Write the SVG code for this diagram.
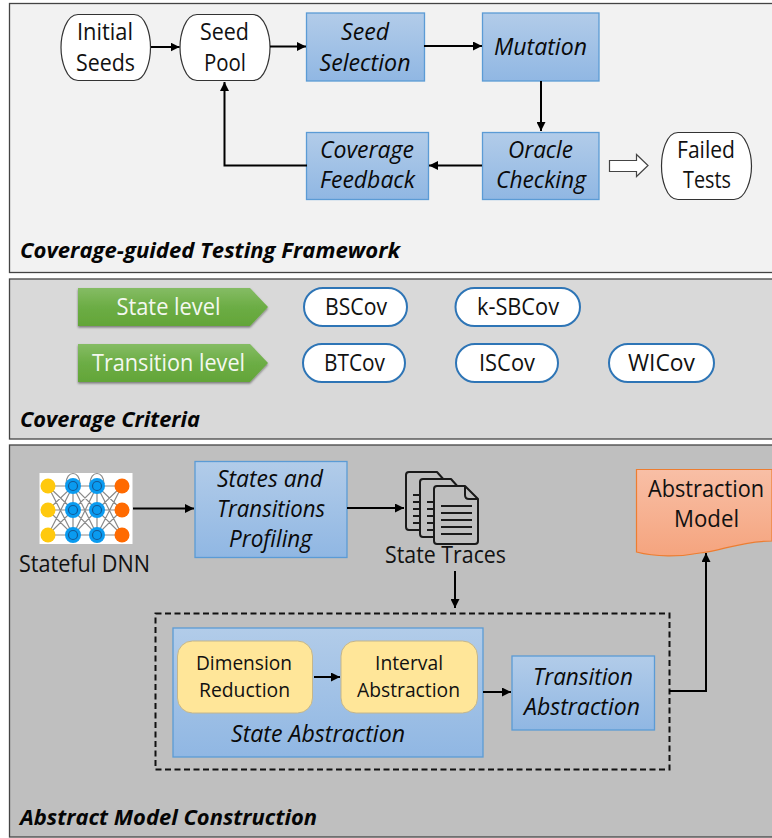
<svg xmlns="http://www.w3.org/2000/svg" width="772" height="838" viewBox="0 0 772 838">
<style>
text{font-family:"Open Sans","Noto Sans","Liberation Sans",sans-serif;font-size:23px;fill:#111}
.i{font-style:italic;fill:#0a0a0a}
.t{font-style:italic;font-weight:700;font-size:21.500px;fill:#050505}
.w{fill:#f4f8f0}
.s{font-size:19.500px}
.panel{stroke:#444;stroke-width:1.3}
.blue{fill:url(#bg);stroke:#5b9bd5;stroke-width:1.3}
.term{fill:#fff;stroke:#333;stroke-width:1.2}
.pill{fill:#fff;stroke:#2e75b6;stroke-width:2}
.green{fill:url(#gg);filter:url(#sh)}
.yel{fill:#ffe699;stroke:#c4b68c;stroke-width:1}
.c{fill:none;stroke:#000;stroke-width:2;marker-end:url(#a)}
.doc{fill:#bfbfbf;stroke:#1a1a1a;stroke-width:2;stroke-linejoin:round}
.dl{fill:none;stroke:#1a1a1a;stroke-width:2}
.net{fill:none;stroke:#8a8a8a;stroke-width:1.2}
</style>
<defs>
<linearGradient id="bg" x1="0" y1="0" x2="0" y2="1"><stop offset="0" stop-color="#b2cce9"/><stop offset="1" stop-color="#90b7e3"/></linearGradient>
<linearGradient id="gg" x1="0" y1="0" x2="0" y2="1"><stop offset="0" stop-color="#85bc64"/><stop offset=".5" stop-color="#6cad45"/><stop offset="1" stop-color="#63a538"/></linearGradient>
<linearGradient id="og" x1="0" y1="0" x2="0" y2="1"><stop offset="0" stop-color="#f8bfa6"/><stop offset="1" stop-color="#f5a47e"/></linearGradient>
<filter id="sh" x="-5%" y="-10%" width="110%" height="130%"><feDropShadow dx="0" dy="1.5" stdDeviation="1.2" flood-color="#000" flood-opacity=".45"/></filter>
<marker id="a" markerUnits="userSpaceOnUse" markerWidth="10" markerHeight="9" refX="9" refY="4.5" orient="auto"><path d="M0 0L9 4.500L0 9z" fill="#000"/></marker>
</defs>

<g id="panel-framework"><rect class="panel" x="9.500" y="3.500" width="770" height="269" fill="#f2f2f2"/><text class="t" x="20" y="258" textLength="380" lengthAdjust="spacingAndGlyphs">Coverage-guided Testing Framework</text></g>
<g id="panel-criteria"><rect class="panel" x="9.500" y="279" width="770" height="160" fill="#d9d9d9"/><text class="t" x="20" y="427" textLength="180" lengthAdjust="spacingAndGlyphs">Coverage Criteria</text></g>
<g id="panel-construction"><rect class="panel" x="9.500" y="445" width="770" height="392" fill="#bfbfbf"/><text class="t" x="20" y="825" textLength="297" lengthAdjust="spacingAndGlyphs">Abstract Model Construction</text></g>

<g id="initial-seeds"><path class="term" d="M78 14.500H134C146 14.500 150.500 35 150.500 47.500C150.500 60 146 80.500 134 80.500H78C66 80.500 61 60 61 47.500C61 35 66 14.500 78 14.500z"/><text x="77" y="40" textLength="56" lengthAdjust="spacingAndGlyphs">Initial</text><text x="76" y="71" textLength="59" lengthAdjust="spacingAndGlyphs">Seeds</text></g>
<g id="seed-pool"><path class="term" d="M197 14.500H253C265 14.500 270 35 270 47.500C270 60 265 80.500 253 80.500H197C185 80.500 180 60 180 47.500C180 35 185 14.500 197 14.500z"/><text x="200" y="40" textLength="49" lengthAdjust="spacingAndGlyphs">Seed</text><text x="204" y="71" textLength="42" lengthAdjust="spacingAndGlyphs">Pool</text></g>
<g id="seed-selection"><rect class="blue" x="306.500" y="13" width="118" height="68"/><text class="i" x="341" y="40" textLength="48" lengthAdjust="spacingAndGlyphs">Seed</text><text class="i" x="319.500" y="71" textLength="91" lengthAdjust="spacingAndGlyphs">Selection</text></g>
<g id="mutation"><rect class="blue" x="482.500" y="13" width="116.500" height="68"/><text class="i" x="494" y="55" textLength="93" lengthAdjust="spacingAndGlyphs">Mutation</text></g>
<g id="coverage-feedback"><rect class="blue" x="306.500" y="132.500" width="122" height="67"/><text class="i" x="320" y="158" textLength="94" lengthAdjust="spacingAndGlyphs">Coverage</text><text class="i" x="320" y="188" textLength="95" lengthAdjust="spacingAndGlyphs">Feedback</text></g>
<g id="oracle-checking"><rect class="blue" x="482.500" y="132.500" width="116.500" height="67"/><text class="i" x="508" y="158" textLength="65" lengthAdjust="spacingAndGlyphs">Oracle</text><text class="i" x="496" y="188" textLength="90" lengthAdjust="spacingAndGlyphs">Checking</text></g>
<g id="failed-tests"><path class="term" d="M678 132.500H734C746 132.500 751.500 153 751.500 166C751.500 179 746 199.500 734 199.500H678C666 199.500 661.500 179 661.500 166C661.500 153 666 132.500 678 132.500z"/><text x="677" y="158" textLength="58" lengthAdjust="spacingAndGlyphs">Failed</text><text x="683" y="188" textLength="48" lengthAdjust="spacingAndGlyphs">Tests</text></g>

<g id="state-level"><path class="green" d="M78 288H250L268 307L250 326H78z"/><text class="w" x="116.500" y="315" textLength="104" lengthAdjust="spacingAndGlyphs">State level</text></g>
<g id="transition-level"><path class="green" d="M78 344H250L268 363L250 382H78z"/><text class="w" x="92" y="371" textLength="153" lengthAdjust="spacingAndGlyphs">Transition level</text></g>
<g id="bscov"><rect class="pill" x="304" y="288" width="103" height="38" rx="19"/><text x="325" y="315" textLength="62" lengthAdjust="spacingAndGlyphs">BSCov</text></g>
<g id="k-sbcov"><rect class="pill" x="455.500" y="288" width="124.500" height="38" rx="19"/><text x="477" y="315" textLength="82" lengthAdjust="spacingAndGlyphs">k-SBCov</text></g>
<g id="btcov"><rect class="pill" x="303" y="344" width="102" height="38" rx="19"/><text x="324" y="371" textLength="61" lengthAdjust="spacingAndGlyphs">BTCov</text></g>
<g id="iscov"><rect class="pill" x="456" y="344" width="102" height="38" rx="19"/><text x="479" y="371" textLength="56" lengthAdjust="spacingAndGlyphs">ISCov</text></g>
<g id="wicov"><rect class="pill" x="609" y="344" width="105" height="38" rx="19"/><text x="628" y="371" textLength="67" lengthAdjust="spacingAndGlyphs">WICov</text></g>

<g id="stateful-dnn">
<rect x="39.500" y="473" width="93" height="71" fill="#fff"/>
<path class="net" d="M48 486H122M48 510H122M48 535H122M73 486V535M97 486V535M48 486L73 510L97 486L122 510M48 510L73 486L97 510L122 486M48 510L73 535L97 510L122 535M48 535L73 510L97 535L122 510M48 486L73 535M73 486L97 535M97 486L122 535M48 535L73 486M73 535L97 486M97 535L122 486M66 484C66 470 80 470 80 484M90 484C90 470 104 470 104 484"/>
<g fill="#ffc90e"><circle cx="48" cy="486" r="7.500"/><circle cx="48" cy="510" r="7.500"/><circle cx="48" cy="535" r="7.500"/></g>
<g fill="#ff6a00"><circle cx="122" cy="486" r="7.500"/><circle cx="122" cy="510" r="7.500"/><circle cx="122" cy="535" r="7.500"/></g>
<g fill="#0a9bf0">
<circle cx="73" cy="486" r="8"/><circle cx="73" cy="510" r="8"/><circle cx="73" cy="535" r="8"/><circle cx="97" cy="486" r="8"/><circle cx="97" cy="510" r="8"/><circle cx="97" cy="535" r="8"/></g>
<g fill="none" stroke="#155a96" stroke-width="1.200"><circle cx="73" cy="486" r="4.500"/><circle cx="73" cy="510" r="4.500"/><circle cx="73" cy="535" r="4.500"/><circle cx="97" cy="486" r="4.500"/><circle cx="97" cy="510" r="4.500"/><circle cx="97" cy="535" r="4.500"/></g>
<text x="19" y="572" textLength="131" lengthAdjust="spacingAndGlyphs">Stateful DNN</text>
</g>
<g id="states-transitions-profiling"><rect class="blue" x="195" y="461.500" width="152" height="96"/><text class="i" x="217" y="487" textLength="106" lengthAdjust="spacingAndGlyphs">States and</text><text class="i" x="217" y="517" textLength="108" lengthAdjust="spacingAndGlyphs">Transitions</text><text class="i" x="229" y="547" textLength="83" lengthAdjust="spacingAndGlyphs">Profiling</text></g>
<g id="state-traces">
<path class="doc" d="M409 472H437L445 481V527Q445 530 442 530H409Q406 530 406 527V475Q406 472 409 472z"/>
<path class="dl" d="M413 495H421M413 502H421M413 509H421M413 516H421M413 523H421"/>
<path class="doc" d="M423 479H451L459 488V534Q459 537 456 537H423Q420 537 420 534V482Q420 479 423 479z"/>
<path class="dl" d="M427 502H435M427 509H435M427 516H435M427 523H435M427 530H435"/>
<path class="doc" d="M437 486H465L478 499V541Q478 544 475 544H437Q434 544 434 541V489Q434 486 437 486z"/>
<path class="dl" d="M465 486V495Q465 499 469 499H478M441 506H472M441 513H472M441 520H472M441 527H472M441 534H472"/>
<text x="385" y="563" textLength="121" lengthAdjust="spacingAndGlyphs">State Traces</text>
</g>
<g id="abstraction-model"><path d="M636.500 469.500H772V541C740 541 722 551 700 553C680 557 655 557 636.500 552z" fill="url(#og)" stroke="#ed7d31" stroke-width="1.200"/><text x="648" y="497" textLength="116" lengthAdjust="spacingAndGlyphs">Abstraction</text><text x="674" y="527" textLength="65" lengthAdjust="spacingAndGlyphs">Model</text></g>

<g id="abstraction-group"><rect x="155.500" y="613.500" width="514" height="156" fill="none" stroke="#111" stroke-width="2" stroke-dasharray="6 3.500"/></g>
<g id="state-abstraction"><rect class="blue" x="173" y="628" width="310" height="129"/><text class="i" x="231" y="742" textLength="174" lengthAdjust="spacingAndGlyphs">State Abstraction</text></g>
<g id="dimension-reduction"><rect class="yel" x="177.500" y="641" width="135" height="72" rx="15"/><text class="s" x="196" y="670" textLength="96" lengthAdjust="spacingAndGlyphs">Dimension</text><text class="s" x="199" y="697" textLength="91" lengthAdjust="spacingAndGlyphs">Reduction</text></g>
<g id="interval-abstraction"><rect class="yel" x="341" y="641" width="136.500" height="72" rx="15"/><text class="s" x="375" y="670" textLength="68" lengthAdjust="spacingAndGlyphs">Interval</text><text class="s" x="357" y="697" textLength="103" lengthAdjust="spacingAndGlyphs">Abstraction</text></g>
<g id="transition-abstraction"><rect class="blue" x="512" y="656" width="142.500" height="74"/><text class="i" x="533" y="685" textLength="100" lengthAdjust="spacingAndGlyphs">Transition</text><text class="i" x="524" y="715" textLength="116" lengthAdjust="spacingAndGlyphs">Abstraction</text></g>

<g id="connectors">
<path class="c" d="M151 47H179.500"/>
<path class="c" d="M270 46.500H306"/>
<path class="c" d="M424 46H482"/>
<path class="c" d="M541 81V131"/>
<path class="c" d="M482 165.500H429"/>
<path class="c" d="M307 165.500H224.500V82"/>
<path class="c" d="M133 508.500H194"/>
<path class="c" d="M347 508H404"/>
<path class="c" d="M455 571V608"/>
<path class="c" d="M314 677H340"/>
<path class="c" d="M483 692H511"/>
<path class="c" d="M669 691H706V553"/>
<path d="M609.500 160.500H636.500V154.500L648 165.500L636.500 176.500V171.500H609.500z" fill="#fff" stroke="#444" stroke-width="1.200"/>
</g>
</svg>
